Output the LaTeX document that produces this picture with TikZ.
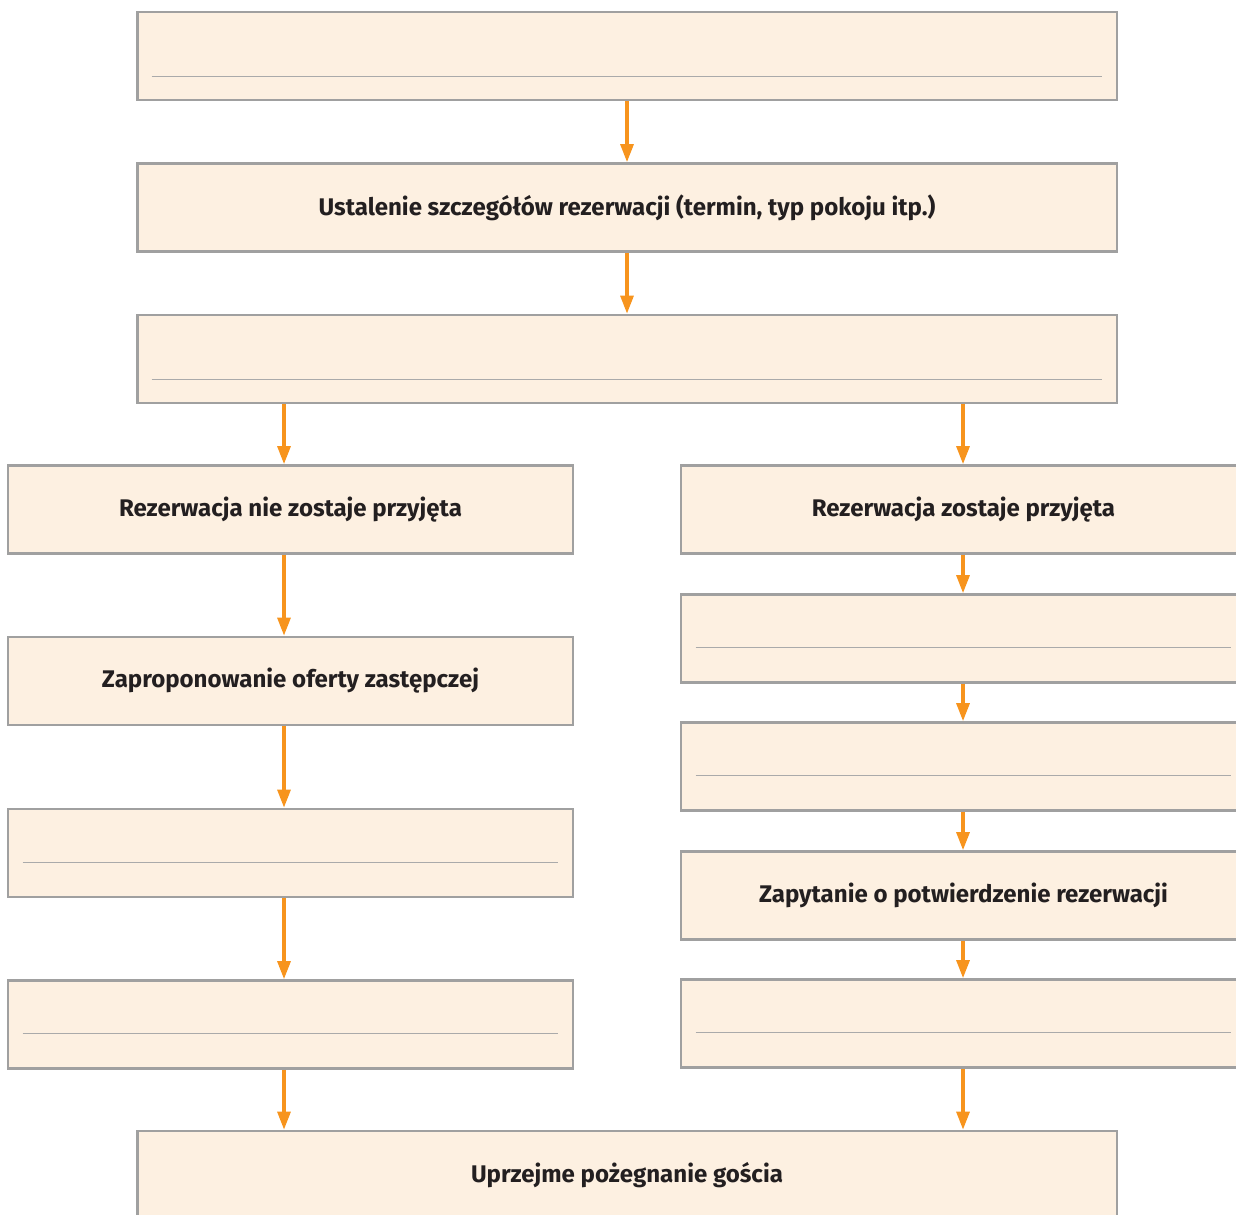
\documentclass[tikz,border=0pt]{standalone}
\usepackage{fontspec}
\setmainfont{Fira Sans}
\usepackage{tikz}
\usetikzlibrary{arrows.meta,calc}

\definecolor{boxfill}{HTML}{FDF0E1}
\definecolor{boxline}{HTML}{A0A0A0}
\definecolor{flowc}{HTML}{F7941D}
\definecolor{txtc}{HTML}{231F20}

\tikzset{
  stage/.style={draw=boxline, line width=1.6pt, fill=boxfill, inner sep=0pt,
    minimum height=1.76cm, text=txtc, font=\bfseries\fontsize{13.7}{16}\selectfont},
  wide/.style={stage, minimum width=19.6cm},
  half/.style={stage, minimum width=11.3cm},
  blank/.style={draw=boxline!90, line width=0.6pt},
  flow/.style={draw=flowc, line width=1.8pt, -{Triangle[length=0.36cm,width=0.26cm]}}
}

\begin{document}
\begin{tikzpicture}[x=0.02cm, y=-0.02cm]
    \useasboundingbox (0,0) rectangle (1236,1214);
    \clip (0,0) rectangle (1236,1214);

    % main column
    \node[wide] (b1) at (627,56) {};
    \node[wide] (b2) at (627,207.5) {Ustalenie szczegółów rezerwacji (termin, typ pokoju itp.)};
    \node[wide] (b3) at (627,359) {};
    \node[wide] (b4) at (627,1175) {Uprzejme pożegnanie gościa};

    % left branch
    \node[half] (l1) at (290.5,509.5) {Rezerwacja nie zostaje przyjęta};
    \node[half] (l2) at (290.5,681) {Zaproponowanie oferty zastępczej};
    \node[half] (l3) at (290.5,853) {};
    \node[half] (l4) at (290.5,1024.5) {};

    % right branch
    \node[half] (r1) at (963.5,509.5) {Rezerwacja zostaje przyjęta};
    \node[half] (r2) at (963.5,638.5) {};
    \node[half] (r3) at (963.5,766.5) {};
    \node[half] (r4) at (963.5,895.5) {Zapytanie o potwierdzenie rezerwacji};
    \node[half] (r5) at (963.5,1023.5) {};

    % lines to fill in
    \foreach \b in {b1,b3}
      \draw[blank] ($(\b.south west)+(16,-25)$) -- ($(\b.south east)+(-16,-25)$);
    \foreach \b in {l3,l4,r2,r3,r5}
      \draw[blank] ($(\b.south west)+(16,-36)$) -- ($(\b.south east)+(-16,-36)$);

    \coordinate (lx) at (284,0);
    \coordinate (rx) at (963,0);

    \draw[flow] (b1) -- (b2);
    \draw[flow] (b2) -- (b3);
    \draw[flow] (b3.south -| lx) -- (l1.north -| lx);
    \draw[flow] (b3.south -| rx) -- (r1.north -| rx);
    \draw[flow] (l1.south -| lx) -- (l2.north -| lx);
    \draw[flow] (l2.south -| lx) -- (l3.north -| lx);
    \draw[flow] (l3.south -| lx) -- (l4.north -| lx);
    \draw[flow] (l4.south -| lx) -- (b4.north -| lx);
    \draw[flow] (r1.south -| rx) -- (r2.north -| rx);
    \draw[flow] (r2.south -| rx) -- (r3.north -| rx);
    \draw[flow] (r3.south -| rx) -- (r4.north -| rx);
    \draw[flow] (r4.south -| rx) -- (r5.north -| rx);
    \draw[flow] (r5.south -| rx) -- (b4.north -| rx);
\end{tikzpicture}
\end{document}
